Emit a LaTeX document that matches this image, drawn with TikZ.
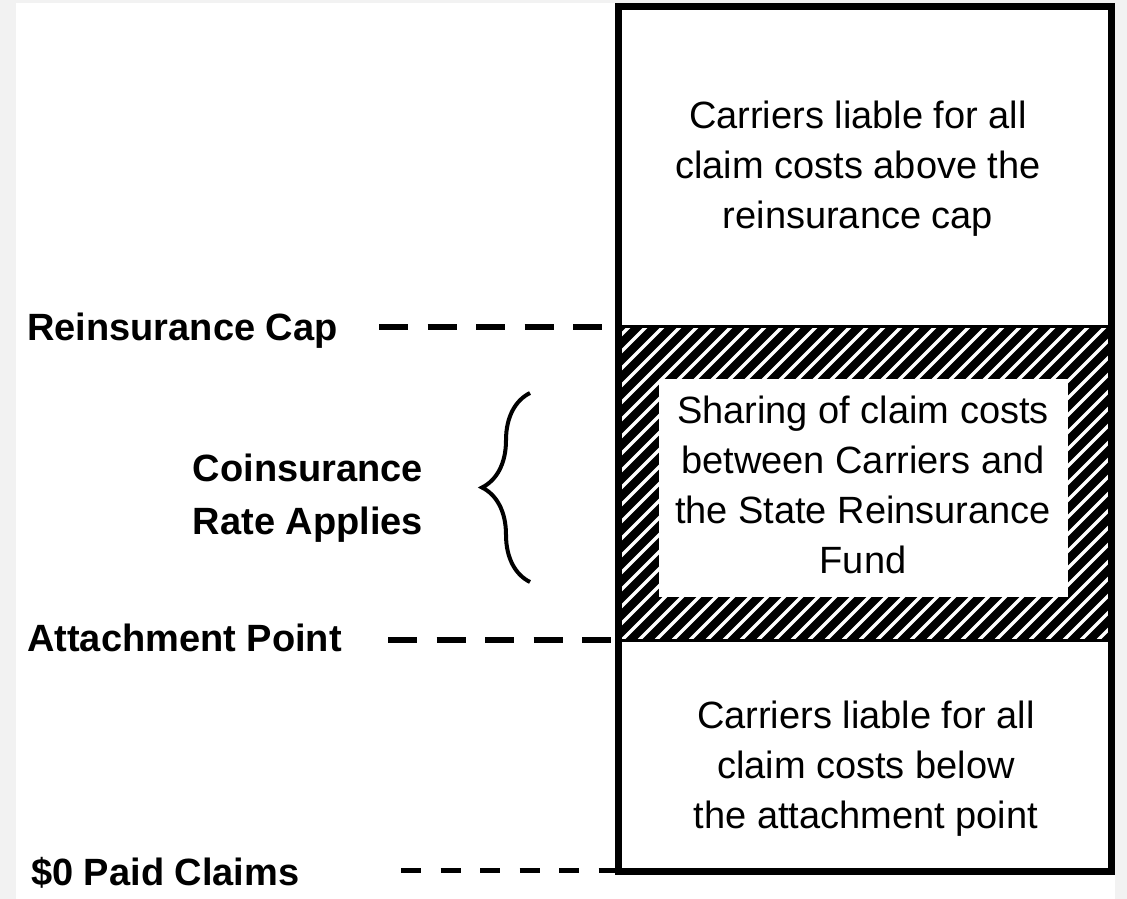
\documentclass[tikz,border=0pt]{standalone}
\usepackage{fontspec}
\setmainfont{Liberation Sans}
\usetikzlibrary{decorations.pathreplacing}
\definecolor{bggray}{HTML}{F2F2F2}
\tikzset{
  boxtext/.style={align=center,inner sep=0pt,font=\fontsize{38}{50}\selectfont},
  sidelabel/.style={anchor=base west,inner sep=0pt,font=\fontsize{38}{46}\selectfont\bfseries},
  guide/.style={line width=5.5pt,dash pattern=on 29pt off 19.5pt},
}
\begin{document}
\begin{tikzpicture}[x=1pt,y=-1pt]
\fill[bggray] (0,0) rectangle (1127,899);
\fill[white] (16,3) rectangle (1115,899);
\useasboundingbox (0,0) rectangle (1127,899);
% hatched band
\fill[black] (618,325) rectangle (1111,640);
\begin{scope}
\clip (618,325) rectangle (1111,640);
\foreach \i in {0,...,48}
  \draw[white,line width=3.5pt] (299+17*\i,640) -- ++(315,-315);
\end{scope}
\fill[white] (659,379) rectangle (1068,597);
\draw[line width=3pt] (618,326) -- (1111,326);
\draw[line width=3pt] (618,640) -- (1111,640);
\draw[line width=7pt] (618,6.5) rectangle (1111,871);
% texts in the column
\node[boxtext] (above) at (858,168.4) {Carriers liable for all\\claim costs above the\\reinsurance cap};
\node[boxtext] (sharing) at (863,485.4) {Sharing of claim costs\\between Carriers and\\the State Reinsurance\\Fund};
\node[boxtext] (below) at (866,768.9) {Carriers liable for all\\claim costs below\\the attachment point};
% labels on the left
\node[sidelabel] (cap) at (27,340) {Reinsurance Cap};
\node[sidelabel] (attach) at (27,651) {Attachment Point};
\node[sidelabel] (zero) at (31,885) {\$0 Paid Claims};
\node[align=center,inner sep=0pt,font=\fontsize{38}{53}\selectfont\bfseries] (coins) at (308,498) {Coinsurance\\Rate Applies};
% dashed guides
\coordinate (capS) at (379,327);
\coordinate (capE) at (612,327);
\coordinate (attS) at (388,640);
\coordinate (attE) at (612,640);
\coordinate (zeroS) at (401,870.5);
\coordinate (zeroE) at (615,870.5);
\draw[guide] (capS) -- (capE);
\draw[guide] (attS) -- (attE);
\draw[guide,line width=5pt,dash pattern=on 20pt off 19.5pt] (zeroS) -- (zeroE);
% brace
\coordinate (braceB) at (530,582);
\coordinate (braceT) at (530,393);
\draw[line width=4pt,decorate,decoration={brace,amplitude=48pt}] (braceB) -- (braceT);
\end{tikzpicture}
\end{document}
